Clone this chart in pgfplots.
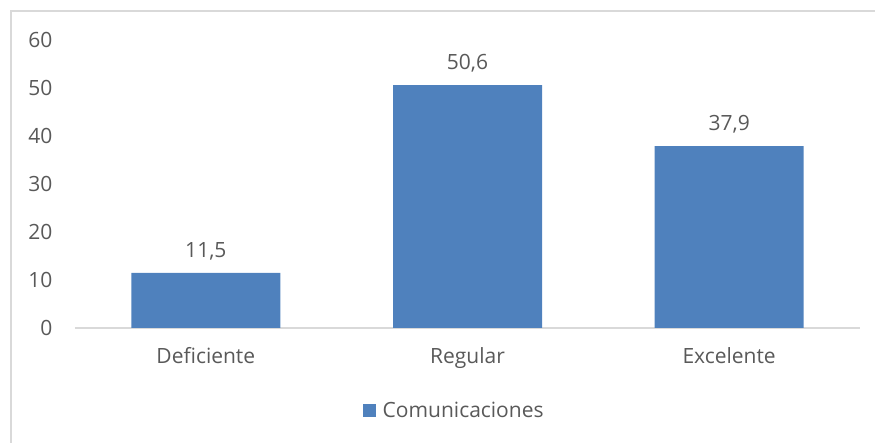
\documentclass[border=0pt]{standalone}
\usepackage{pgfplots}
\pgfplotsset{compat=1.18}
\usepackage{fontspec}
\setmainfont{Open Sans}
\definecolor{barblue}{HTML}{4F81BD}
\definecolor{txt}{HTML}{595959}
\definecolor{axl}{HTML}{D9D9D9}
\begin{document}
\begin{tikzpicture}
\useasboundingbox (-75pt,-115pt) rectangle (800pt,328pt);
\draw[axl, line width=1.2pt] (-64pt,-140pt) -- (-64pt,317pt) -- (830pt,317pt);
\begin{axis}[
  at={(0pt,0pt)}, anchor=south west,
  scale only axis, width=785pt, height=288pt,
  xmin=-0.5, xmax=2.5, ymin=0, ymax=60,
  ytick={0,10,...,60},
  xtick={0,1,2},
  xticklabels={Deficiente,Regular,Excelente},
  axis line style={draw=none},
  axis x line*=bottom, axis y line*=left,
  extra y ticks={0}, extra y tick style={grid=major, grid style={axl, line width=1.2pt}, yticklabel=\empty, major tick length=0pt},
  major tick length=0pt,
  tick label style={font=\fontsize{21}{25}\selectfont, text=txt},
  /pgf/number format/assume math mode=true,
  yticklabel style={xshift=-19pt},
  xticklabel style={yshift=-16pt},
  ybar, bar width=149pt,
  nodes near coords,
  nodes near coords style={font=\fontsize{21}{25}\selectfont, text=txt, yshift=9pt, /pgf/number format/.cd, use comma, fixed, fixed zerofill, precision=1},
  legend style={at={(0.483,-0.288)}, anchor=center, draw=none, font=\fontsize{21}{25}\selectfont, text=txt},
  legend image code/.code={\fill[barblue] (0pt,-6.5pt) rectangle (13pt,6.5pt); \path (18pt,0pt);},
  clip=false,
]
\addplot[fill=barblue, draw=none] coordinates {(0,11.5) (1,50.6) (2,37.9)};
\addlegendentry{Comunicaciones}
\end{axis}
\end{tikzpicture}
\end{document}
